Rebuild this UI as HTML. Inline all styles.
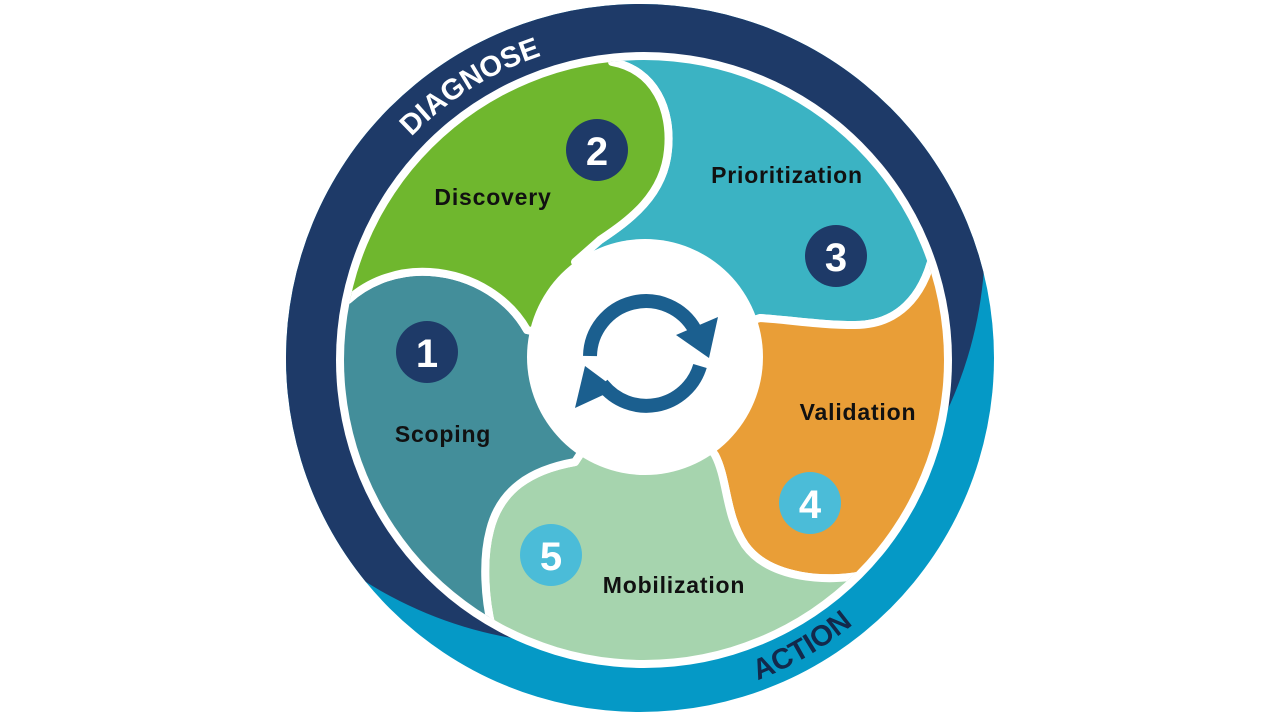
<!DOCTYPE html>
<html><head><meta charset="utf-8"><style>
html,body{margin:0;padding:0;background:#fff;width:1280px;height:720px;overflow:hidden}
svg{display:block}
text{font-family:"Liberation Sans",sans-serif;font-weight:bold}
</style></head><body>
<svg width="1280" height="720" viewBox="0 0 1280 720">
<defs>
<clipPath id="outer"><circle cx="640" cy="358" r="354"/></clipPath>
<clipPath id="inner"><circle cx="644" cy="360" r="300"/></clipPath>
<path id="diag" d="M 364.6 199 A 318 318 0 0 1 617.8 40.8"/>
<path id="act" d="M 660 702 A 342 342 0 0 0 920 550"/>
</defs>
<circle cx="640" cy="358" r="354" fill="#0599c6"/>
<circle cx="581" cy="240" r="404" fill="#1e3a68" clip-path="url(#outer)"/>
<circle cx="644" cy="360" r="308" fill="#fff"/>
<g clip-path="url(#inner)" stroke="#fff" stroke-width="8" stroke-linejoin="round">
<path fill="#3bb3c3" d="M612,62 C655,70 672,110 668,150 C664,195 630,220 600,240 L575,262 L645,355 L760,318 C790,320 820,325 855,325 C895,325 925,300 935,245 L1000,200 L900,-20 L620,-20 Z"/>
<path fill="#e99e37" d="M935,245 C925,300 895,325 855,325 C820,325 790,320 760,318 L645,355 L715,455 C728,480 725,515 745,545 C770,580 830,582 862,575 L950,650 L1020,400 L1000,220 Z"/>
<path fill="#a6d4ae" d="M862,575 C830,582 770,580 745,545 C725,515 728,480 715,455 L645,355 L575,462 C530,470 500,490 490,530 C482,560 485,600 492,628 L470,720 L900,720 L900,620 Z"/>
<path fill="#438e9a" d="M492,628 C485,600 482,560 490,530 C500,490 530,470 575,462 L645,355 L527,330 C510,300 475,275 430,272 C400,270 370,280 348,300 L250,300 L250,620 L470,700 Z"/>
<path fill="#6fb72e" d="M348,300 C370,280 400,270 430,272 C475,275 510,300 527,330 L645,355 L575,262 L600,240 C630,220 664,195 668,150 C672,110 655,70 612,62 L600,-10 L250,100 L250,290 Z"/>
</g>
<circle cx="645" cy="357" r="118" fill="#fff"/>
<g fill="none" stroke="#1b5f8f" stroke-width="14">
<path d="M590,356 A56,56 0 0 1 695,330"/>
<path d="M700,366 A56,56 0 0 1 602,384"/>
</g>
<polygon fill="#1b5f8f" points="709,358 676,335 718,317"/>
<polygon fill="#1b5f8f" points="575,408 585,366 616,389"/>
<g fill="#1e3a68"><circle cx="427" cy="352" r="31"/><circle cx="597" cy="150" r="31"/><circle cx="836" cy="256" r="31"/></g>
<g fill="#4bbcd8"><circle cx="810" cy="503" r="31"/><circle cx="551" cy="555" r="31"/></g>
<g fill="#fff" font-size="40" text-anchor="middle">
<text x="427" y="367">1</text><text x="597" y="165">2</text><text x="836" y="271">3</text><text x="810" y="518">4</text><text x="551" y="570">5</text>
</g>
<g fill="#111" font-size="23" text-anchor="middle" letter-spacing="0.8">
<text x="493" y="205">Discovery</text>
<text x="787" y="183">Prioritization</text>
<text x="443" y="442">Scoping</text>
<text x="858" y="420">Validation</text>
<text x="674" y="593">Mobilization</text>
</g>
<text fill="#fff" font-size="29" text-anchor="middle"><textPath href="#diag" startOffset="50%">DIAGNOSE</textPath></text>
<text fill="#13294b" font-size="29" text-anchor="middle"><textPath href="#act" startOffset="50%">ACTION</textPath></text>
</svg>
</body></html>
